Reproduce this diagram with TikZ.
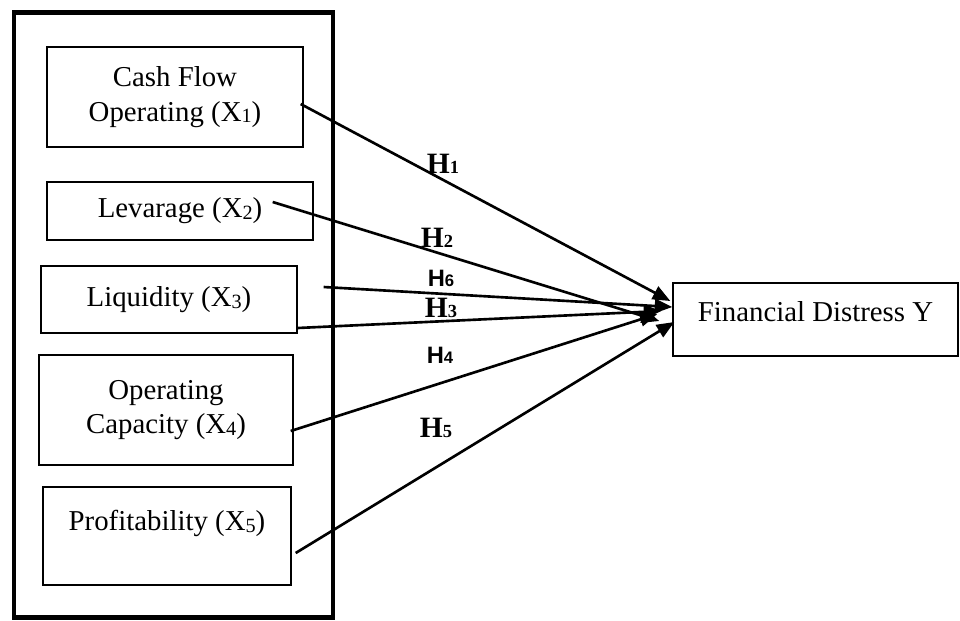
\documentclass[tikz,border=0pt]{standalone}
\usepackage{fontspec}
\setmainfont{Liberation Serif}
\newfontfamily\labsans{Liberation Sans}
\usetikzlibrary{arrows.meta,calc}

\newcommand{\xdig}[1]{\raisebox{-1pt}{\fontsize{11.5}{11.5}\selectfont #1}}
\newcommand{\hdig}[1]{{\fontsize{10.5}{10.5}\selectfont #1}}
\newcommand{\sdig}[1]{{\fontsize{9.5}{9.5}\selectfont #1}}

\tikzset{
  varbox/.style={draw, line width=0.8pt, inner sep=0pt, align=center,
    font=\fontsize{16.4}{19.5}\selectfont},
  hyp/.style={line width=1.5pt, -{Triangle[length=10pt,width=8pt]}},
  hlab/.style={inner sep=0pt, font=\fontsize{16.8}{16.8}\selectfont\bfseries},
  hlabsans/.style={inner sep=0pt, font=\fontsize{13.5}{13.5}\selectfont\labsans\bfseries}
}

\begin{document}
\begin{tikzpicture}[x=0.02cm, y=-0.02cm]
        \useasboundingbox (0,0) rectangle (960,620);
        \node[draw, line width=2.8pt, minimum width=6.38cm, minimum height=12.12cm] (frame) at (173.5,315) {};

        \node[varbox, minimum width=5.12cm, minimum height=2cm] (x1) at (175,97) {Cash Flow\\Operating (X\xdig{1})};
        \node[varbox, minimum width=5.32cm, minimum height=1.16cm] (x2) at (180,211) {Levarage (X\xdig{2})};
        \node[varbox, minimum width=5.12cm, minimum height=1.34cm] (x3) at (169,299.5) {Liquidity (X\xdig{3})};
        \node[varbox, minimum width=5.08cm, minimum height=2.2cm] (x4) at (166,410) {Operating\\Capacity (X\xdig{4})};
        \node[varbox, minimum width=4.96cm, minimum height=1.96cm, text depth=0.63cm] (x5) at (167,536) {Profitability (X\xdig{5})};
        \node[varbox, minimum width=5.7cm, minimum height=1.46cm, text depth=0.33cm] (fd) at (815.5,319.5) {Financial Distress Y};

        \draw[hyp] ($(x1.east)+(-3,7)$) -- ($(fd.west)+(-2,-18.5)$);
        \draw[hyp] ($(x2.east)+(-41,-9)$) -- ($(fd.west)+(-13,1.5)$);
        \draw[hyp] ($(x3.east)+(26,-12.5)$) -- ($(fd.west)+(0,-12.5)$);
        \draw[hyp] ($(x3.east)+(0,28.5)$) -- ($(fd.west)+(-11,-8.5)$);
        \draw[hyp] ($(x4.east)+(-3,21)$) -- ($(fd.west)+(-15,-5.5)$);
        \draw[hyp] ($(x5.east)+(4,17)$) -- ($(fd.west)+(2,2.5)$);

        \node[hlab] (h1) at (443,164) {H\hdig{1}};
        \node[hlab] (h2) at (437,238) {H\hdig{2}};
        \node[hlabsans] (h6) at (441,278) {H\sdig{6}};
        \node[hlab] (h3) at (441,308) {H\hdig{3}};
        \node[hlabsans] (h4) at (440,355) {H\sdig{4}};
        \node[hlab] (h5) at (436,428) {H\hdig{5}};
    \end{tikzpicture}
\end{document}
